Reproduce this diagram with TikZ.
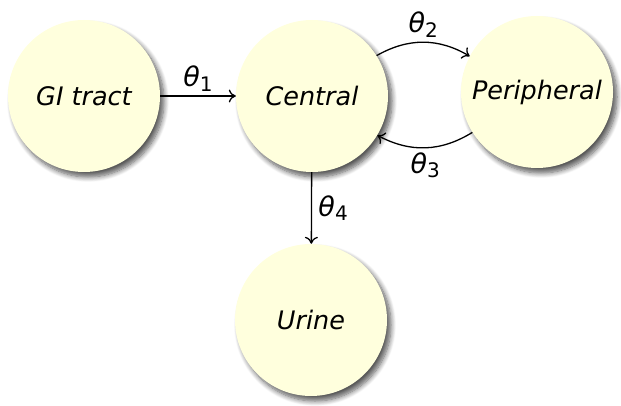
\documentclass[tikz,border=0pt]{standalone}
\usepackage{fontspec}
\setmainfont{DejaVu Sans}
\usetikzlibrary{shadows.blur,arrows.meta}
\definecolor{nodefill}{RGB}{255,255,221}
\tikzset{
  comp/.style={circle, fill=nodefill, minimum size=152pt, inner sep=0pt,
    blur shadow={shadow xshift=4pt, shadow yshift=-5pt, shadow blur steps=8, shadow blur radius=5pt, shadow opacity=65},
    font=\fontsize{25.5}{30}\selectfont\itshape},
  conn/.style={-{Computer Modern Rightarrow[length=7pt,width=13pt]}, line width=1.3pt},
  lab/.style={font=\fontsize{27}{30}\selectfont}
}
\newcommand{\thet}[1]{\textit{θ}\raisebox{-0.3ex}{\fontsize{20}{22}\selectfont #1}}
\begin{document}
\begin{tikzpicture}[x=1pt,y=-1pt]
\useasboundingbox (0,0) rectangle (621,406);
\node[comp] (gi) at (84,96) {GI tract};
\node[comp] (cen) at (312,96) {Central};
\node[comp] (per) at (537,92) {Peripheral};
\node[comp] (uri) at (311,320) {Urine};
\draw[conn] (gi) -- node[lab, above=1pt] {\thet{1}} (cen);
\draw[conn] (cen.32) to[bend left=30] node[lab, above=1pt] {\thet{2}} (per.152);
\draw[conn] (per.212) to[bend left=30] node[lab, below=1pt] {\thet{3}} (cen.329);
\draw[conn] (cen) -- node[lab, right=3pt] {\thet{4}} (uri);
\end{tikzpicture}
\end{document}
